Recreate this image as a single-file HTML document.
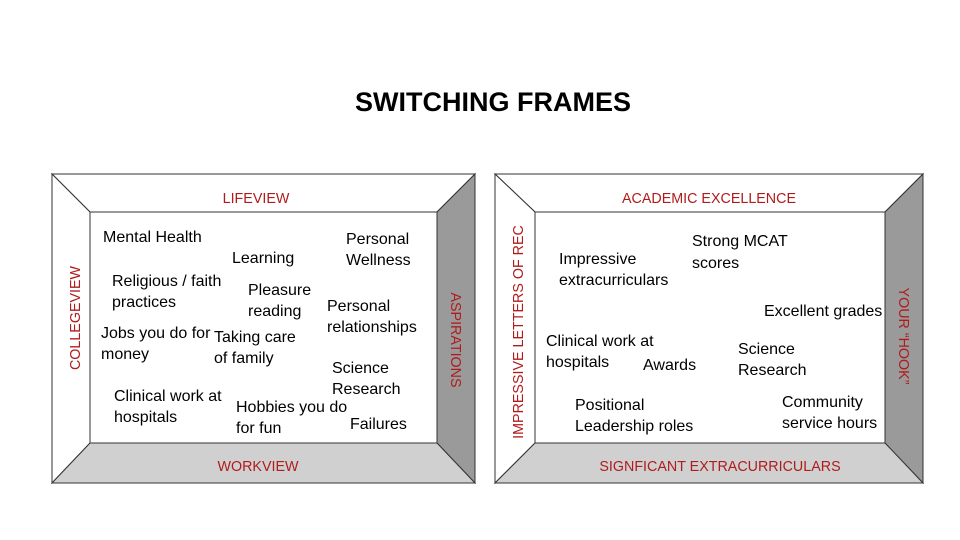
<!DOCTYPE html>
<html><head><meta charset="utf-8"><style>
html,body{margin:0;padding:0;background:#fff;}
svg{display:block;font-family:"Liberation Sans",sans-serif;}
.t{font-size:16px;fill:#000;}
.r{font-size:14.3px;fill:#b01c1c;}
</style></head><body>
<svg width="960" height="540" viewBox="0 0 960 540">
<text x="493" y="111" text-anchor="middle" font-size="27" font-weight="bold">SWITCHING FRAMES</text>
<g stroke="#333" stroke-width="1">
<polygon points="52,174 475,174 437,212 90,212" fill="#fff"/>
<polygon points="52,174 90,212 90,443 52,483" fill="#fff"/>
<polygon points="475,174 475,483 437,443 437,212" fill="#9a9a9a"/>
<polygon points="52,483 90,443 437,443 475,483" fill="#d0d0d0"/>
<rect x="90" y="212" width="347" height="231" fill="#fff"/>
<polygon points="495,174 923,174 885,212 535,212" fill="#fff"/>
<polygon points="495,174 535,212 535,443 495,483" fill="#fff"/>
<polygon points="923,174 923,483 885,443 885,212" fill="#9a9a9a"/>
<polygon points="495,483 535,443 885,443 923,483" fill="#d0d0d0"/>
<rect x="535" y="212" width="350" height="231" fill="#fff"/>
</g>
<text class="r" x="256" y="203" text-anchor="middle">LIFEVIEW</text>
<text class="r" x="258" y="471" text-anchor="middle">WORKVIEW</text>
<text class="r" transform="translate(80,318) rotate(-90)" text-anchor="middle">COLLEGEVIEW</text>
<text class="r" transform="translate(451,340) rotate(90)" text-anchor="middle">ASPIRATIONS</text>
<text class="t" x="103" y="242">Mental Health</text>
<text class="t" x="232" y="263">Learning</text>
<text class="t" x="346" y="244">Personal</text>
<text class="t" x="346" y="265">Wellness</text>
<text class="t" x="112" y="286">Religious / faith</text>
<text class="t" x="112" y="307">practices</text>
<text class="t" x="248" y="295">Pleasure</text>
<text class="t" x="248" y="316">reading</text>
<text class="t" x="327" y="311">Personal</text>
<text class="t" x="327" y="332">relationships</text>
<text class="t" x="101" y="338">Jobs you do for</text>
<text class="t" x="101" y="359">money</text>
<text class="t" x="214" y="342">Taking care</text>
<text class="t" x="214" y="363">of family</text>
<text class="t" x="332" y="373">Science</text>
<text class="t" x="332" y="394">Research</text>
<text class="t" x="114" y="401">Clinical work at</text>
<text class="t" x="114" y="422">hospitals</text>
<text class="t" x="236" y="412">Hobbies you do</text>
<text class="t" x="236" y="433">for fun</text>
<text class="t" x="350" y="429">Failures</text>
<text class="r" x="709" y="203" text-anchor="middle">ACADEMIC EXCELLENCE</text>
<text class="r" x="720" y="471" text-anchor="middle">SIGNFICANT EXTRACURRICULARS</text>
<text class="r" transform="translate(523,332) rotate(-90)" text-anchor="middle">IMPRESSIVE LETTERS OF REC</text>
<text class="r" transform="translate(899,336) rotate(90)" text-anchor="middle">YOUR “HOOK”</text>
<text class="t" x="692" y="246">Strong MCAT</text>
<text class="t" x="692" y="268">scores</text>
<text class="t" x="559" y="264">Impressive</text>
<text class="t" x="559" y="285">extracurriculars</text>
<text class="t" x="764" y="316">Excellent grades</text>
<text class="t" x="546" y="346">Clinical work at</text>
<text class="t" x="546" y="367">hospitals</text>
<text class="t" x="643" y="370">Awards</text>
<text class="t" x="738" y="354">Science</text>
<text class="t" x="738" y="375">Research</text>
<text class="t" x="575" y="410">Positional</text>
<text class="t" x="575" y="431">Leadership roles</text>
<text class="t" x="782" y="407">Community</text>
<text class="t" x="782" y="428">service hours</text>
</svg>
</body></html>
